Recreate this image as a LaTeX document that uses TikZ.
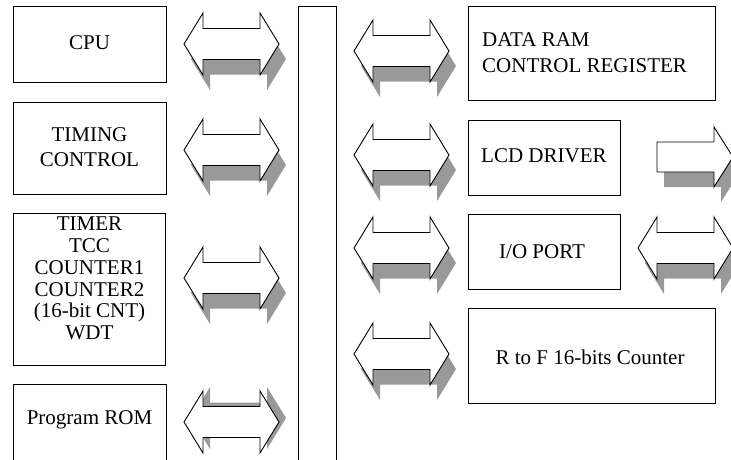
\documentclass[tikz,border=0pt]{standalone}
\usepackage{fontspec}
\setmainfont{Liberation Serif}
\definecolor{shadowgray}{HTML}{999999}
\begin{document}
\begin{tikzpicture}[x=1pt,y=-1pt,
  box/.style={draw, line width=0.9pt, inner sep=0pt, anchor=north west},
  lbl/.style={inner sep=0pt, font=\fontsize{21}{22}\selectfont},
  arrowshadow/.style={fill=shadowgray},
  arrowbody/.style={draw, fill=white, line width=0.9pt, line join=miter},
  darrow/.pic={\path[pic actions] (-47.5,0) -- (-28.5,-31) -- (-28.5,-15.5) -- (28.5,-15.5) -- (28.5,-31) -- (47.5,0) -- (28.5,31) -- (28.5,15.5) -- (-28.5,15.5) -- (-28.5,31) -- cycle;},
  rarrow/.pic={\path[pic actions] (0,-15) -- (57,-15) -- (57,-30) -- (76,0) -- (57,30) -- (57,15) -- (0,15) -- cycle;}
]
\useasboundingbox (0,0) rectangle (731,459);

% boxes
\node[box, minimum width=153pt, minimum height=76pt] (cpu) at (13,6) {};
\node[box, minimum width=153pt, minimum height=92pt] (timing) at (13,102) {};
\node[box, minimum width=152pt, minimum height=152pt] (timer) at (13,213) {};
\node[box, minimum width=153pt, minimum height=110pt] (rom) at (13,384) {};
\node[box, minimum width=38pt, minimum height=480pt] (bus) at (298,6) {};
\node[box, minimum width=247pt, minimum height=94pt] (dataram) at (468,6) {};
\node[box, minimum width=152pt, minimum height=75pt] (lcd) at (468,120) {};
\node[box, minimum width=152pt, minimum height=75pt] (io) at (468,214) {};
\node[box, minimum width=247pt, minimum height=95pt] (rtof) at (468,308) {};

% labels
\node[lbl] (cpuT) at (89.5,43) {CPU};
\node[lbl, align=center, font=\fontsize{21}{25}\selectfont] (timingT) at (89.5,147.2) {TIMING\\CONTROL};
\node[lbl, align=center, font=\fontsize{21}{21.7}\selectfont] (timerT) at (89.5,278.5) {TIMER\\TCC\\COUNTER1\\COUNTER2\\(16-bit CNT)\\WDT};
\node[lbl] (romT) at (89.5,419.4) {Program ROM};
\node[lbl, anchor=west, align=left, font=\fontsize{21}{26}\selectfont] (dataramT) at (482,53) {DATA RAM\\CONTROL REGISTER};
\node[lbl, anchor=west] (lcdT) at (481,156) {LCD DRIVER};
\node[lbl] (ioT) at (542,252) {I/O PORT};
\node[lbl] (rtofT) at (590,357) {R to F 16-bits Counter};

% block arrows: shadows first
\pic[arrowshadow] at (238.5,59) {darrow};
\pic[arrowshadow] at (238.5,165) {darrow};
\pic[arrowshadow] at (238.5,293) {darrow};
\pic[arrowshadow] at (238.5,418) {darrow};
\pic[arrowshadow] at (408.5,66) {darrow};
\pic[arrowshadow] at (408.5,170) {darrow};
\pic[arrowshadow] at (408.5,263) {darrow};
\pic[arrowshadow] at (408.5,369) {darrow};
\pic[arrowshadow] at (664,172) {rarrow};
\pic[arrowshadow] at (692.5,263) {darrow};

% block arrows: bodies
\pic[arrowbody] at (231.5,44) {darrow};
\pic[arrowbody] at (231.5,150) {darrow};
\pic[arrowbody] at (231.5,278) {darrow};
\pic[arrowbody] at (231.5,422) {darrow};
\pic[arrowbody] at (401.5,51) {darrow};
\pic[arrowbody] at (401.5,155) {darrow};
\pic[arrowbody] at (401.5,248) {darrow};
\pic[arrowbody] at (401.5,354) {darrow};
\pic[arrowbody] at (657,157) {rarrow};
\pic[arrowbody] at (685.5,248) {darrow};
\end{tikzpicture}
\end{document}
